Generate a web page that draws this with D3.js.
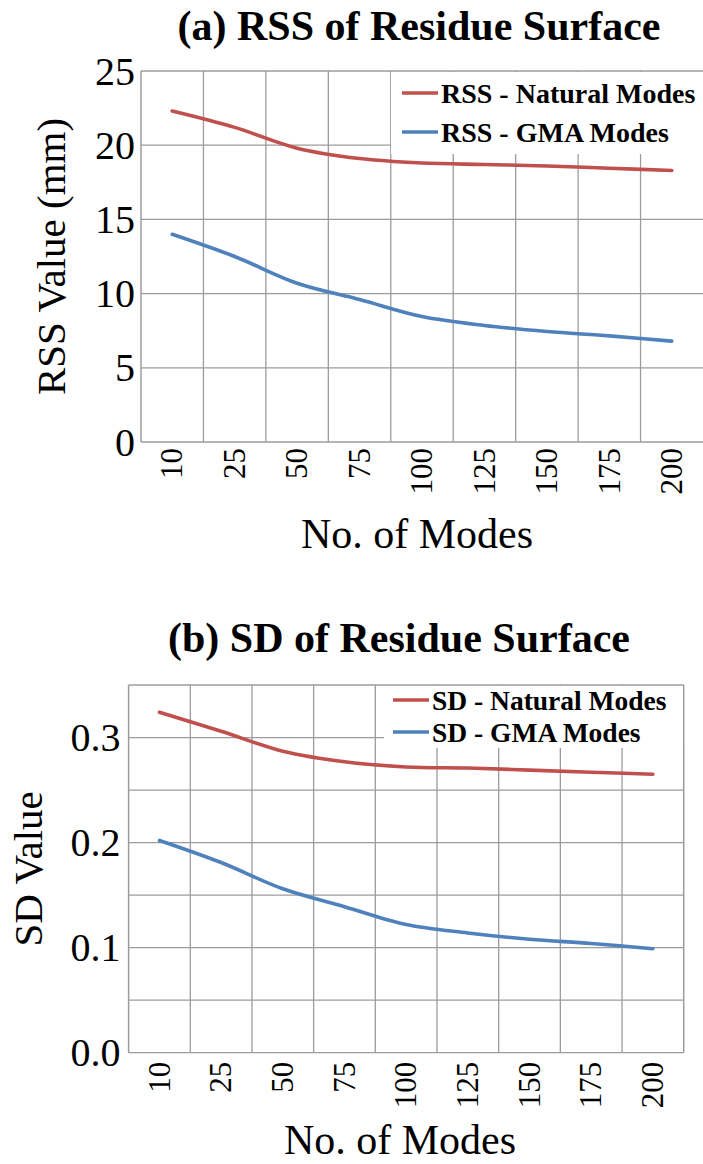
<!DOCTYPE html>
<html>
<head>
<meta charset="utf-8">
<script src="https://cdn.jsdelivr.net/npm/d3@7"></script>
<style>
  body { margin: 0; background: #fff; }
</style>
</head>
<body>
<script>
// data
var categories = ["10", "25", "50", "75", "100", "125", "150", "175", "200"];

var rssNatural = [22.3, 21.2, 19.8, 19.1, 18.8, 18.7, 18.6, 18.45, 18.3];
var rssGMA     = [14.0, 12.5, 10.7, 9.6, 8.45, 7.85, 7.45, 7.15, 6.8];

var sdNatural = [0.324, 0.306, 0.287, 0.277, 0.272, 0.271, 0.269, 0.267, 0.265];
var sdGMA     = [0.202, 0.181, 0.156, 0.139, 0.122, 0.114, 0.108, 0.104, 0.099];

var rssTicks = [0, 5, 10, 15, 20, 25];
var sdTicks = [0, 0.1, 0.2, 0.3];
var sdGrid = [0, 0.05, 0.1, 0.15, 0.2, 0.25, 0.3, 0.35];

var red = "#c0504d", blue = "#4f81bd", grid = "#9c9c9c";
var serif = "'Liberation Serif'";

var width = 703, height = 1164;

var svg = d3.select("body").append("svg")
    .attr("width", width)
    .attr("height", height);

function drawChart(c) {
  var g = svg.append("g");

  var x = d3.scaleBand().domain(categories).range([c.left, c.right]).padding(0);
  var y = d3.scaleLinear().domain(c.domain).range([c.bottom, c.top]);

  // horizontal gridlines
  g.append("g").selectAll("line")
    .data(c.grid)
    .enter().append("line")
    .attr("x1", c.left).attr("x2", c.right)
    .attr("y1", function(d) { return y(d); })
    .attr("y2", function(d) { return y(d); })
    .attr("stroke", grid).attr("stroke-width", 1.3);

  // vertical gridlines at category boundaries
  g.append("g").selectAll("line")
    .data(categories.slice(1))
    .enter().append("line")
    .attr("x1", function(d) { return x(d); })
    .attr("x2", function(d) { return x(d); })
    .attr("y1", c.top).attr("y2", c.bottom)
    .attr("stroke", grid).attr("stroke-width", 1.3);

  // frame
  g.append("line").attr("x1", c.left).attr("x2", c.left)
    .attr("y1", c.top).attr("y2", c.bottom)
    .attr("stroke", grid).attr("stroke-width", 1.5);
  if (c.rightBorder) {
    g.append("line").attr("x1", c.right).attr("x2", c.right)
      .attr("y1", c.top).attr("y2", c.bottom)
      .attr("stroke", grid).attr("stroke-width", 1.5);
  }

  // legend box hides the grid behind it
  g.append("rect")
    .attr("x", c.legend.x).attr("y", c.top + 1)
    .attr("width", c.legend.w).attr("height", c.legend.h)
    .attr("fill", "#fff");

  // y tick labels
  g.append("g").selectAll("text")
    .data(c.ticks)
    .enter().append("text")
    .attr("x", c.left - c.tickPad)
    .attr("y", function(d) { return y(d); })
    .attr("dy", "0.34em")
    .attr("text-anchor", "end")
    .style("font-family", serif)
    .style("font-size", "40px")
    .text(c.tickFormat);

  // x tick labels, rotated
  g.append("g").selectAll("text")
    .data(categories)
    .enter().append("text")
    .attr("transform", function(d) {
      return "translate(" + (x(d) + x.bandwidth() / 2) + "," + (c.bottom + c.xPad) + ") rotate(-90)";
    })
    .attr("dy", "0.33em")
    .attr("text-anchor", "end")
    .style("font-family", serif)
    .style("font-size", "31px")
    .text(function(d) { return d; });

  // lines
  var line = d3.line()
    .x(function(d, i) { return x(categories[i]) + x.bandwidth() / 2; })
    .y(function(d) { return y(d); })
    .curve(d3.curveCatmullRom.alpha(0.5));

  c.series.forEach(function(s) {
    g.append("path")
      .datum(s.values)
      .attr("d", line)
      .attr("fill", "none")
      .attr("stroke", s.color)
      .attr("stroke-width", 3.6)
      .attr("stroke-linecap", "round");
  });

  // legend entries
  var leg = g.append("g").selectAll("g")
    .data(c.series)
    .enter().append("g")
    .attr("transform", function(d, i) {
      return "translate(" + c.legend.lx + "," + (c.legend.ly + i * c.legend.step) + ")";
    });
  leg.append("line")
    .attr("x1", 0).attr("x2", 36)
    .attr("stroke", function(d) { return d.color; })
    .attr("stroke-width", 3.6);
  leg.append("text")
    .attr("x", 39).attr("dy", "0.35em")
    .style("font-family", serif)
    .style("font-size", c.legend.font + "px")
    .style("font-weight", "bold")
    .text(function(d) { return d.name; });

  // titles
  g.append("text")
    .attr("x", c.title.x).attr("y", c.title.y)
    .attr("text-anchor", "middle")
    .style("font-family", serif)
    .style("font-size", "42px").style("font-weight", "bold")
    .text(c.title.text);

  g.append("text")
    .attr("x", c.xTitle.x).attr("y", c.xTitle.y)
    .attr("text-anchor", "middle")
    .style("font-family", serif)
    .style("font-size", "42px")
    .text("No. of Modes");

  g.append("text")
    .attr("transform", "translate(" + c.yTitle.x + "," + ((c.top + c.bottom) / 2) + ") rotate(-90)")
    .attr("text-anchor", "middle")
    .style("font-family", serif)
    .style("font-size", "41px")
    .text(c.yTitle.text);
}

drawChart({
  left: 141, right: 703, top: 71, bottom: 442,
  domain: [0, 25], ticks: rssTicks, grid: rssTicks,
  tickFormat: function(d) { return d; }, tickPad: 6, xPad: 6,
  rightBorder: false,
  series: [
    {name: "RSS - Natural Modes", color: red, values: rssNatural},
    {name: "RSS - GMA Modes", color: blue, values: rssGMA}
  ],
  legend: {x: 391, w: 312, h: 82, lx: 402, ly: 93, step: 39, font: 28},
  title: {text: "(a) RSS of Residue Surface", x: 419, y: 40},
  xTitle: {x: 417, y: 548},
  yTitle: {text: "RSS Value (mm)", x: 65}
});

drawChart({
  left: 128.6, right: 683.7, top: 685, bottom: 1052.7,
  domain: [0, 0.35], ticks: sdTicks, grid: sdGrid,
  tickFormat: d3.format(".1f"), tickPad: 8, xPad: 9,
  rightBorder: true,
  series: [
    {name: "SD - Natural Modes", color: red, values: sdNatural},
    {name: "SD - GMA Modes", color: blue, values: sdGMA}
  ],
  legend: {x: 384, w: 299, h: 62, lx: 393, ly: 700, step: 32, font: 27.5},
  title: {text: "(b) SD of Residue Surface", x: 399, y: 652},
  xTitle: {x: 400, y: 1154},
  yTitle: {text: "SD Value", x: 42}
});
</script>
</body>
</html>
